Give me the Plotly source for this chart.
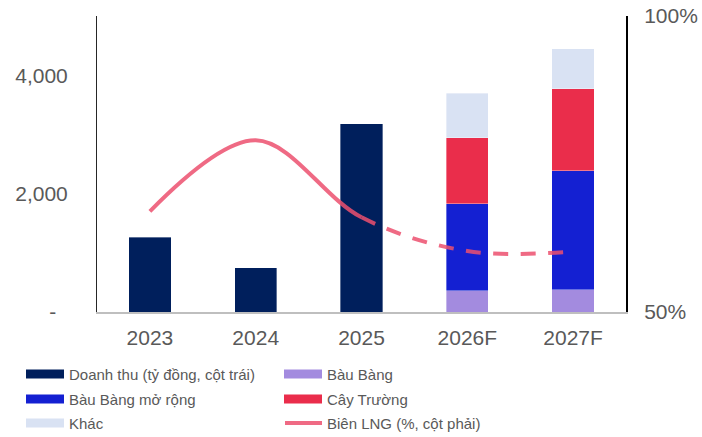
import math
import plotly.graph_objects as go

# Categories and values
years = ["2023", "2024", "2025", "2026F", "2027F"]
revenue = [1260, 750, 3180, None, None]          # Doanh thu (tỷ đồng)
bau_bang = [None, None, None, 360, 380]
bau_bang_mr = [None, None, None, 1470, 2005]
cay_truong = [None, None, None, 1115, 1390]
khac = [None, None, None, 750, 670]
margin_pct = [67.0, 79.0, 66.0, 60.3, 60.2]      # Biên LNG (%)
last_actual = 2                                  # index of the last reported year (2025)

NAVY = "#001F5C"
LAVENDER = "#A38BDF"
BLUE = "#1420D2"
RED = "#EA2D4B"
LIGHT = "#D9E2F3"
PINK = "rgba(236,80,110,0.85)"
FONT = "Liberation Sans, Arial, sans-serif"
GREY = "#595959"

W, H = 702, 437
ML, MR, MT, MB = 97, 76, 16, 125
Y2_RANGE = (50, 100)


def spline_length_to(values, upto, smoothness=1.0):
    """Pixel length of plotly's spline path from the first point to point `upto`."""
    pw, ph = W - ML - MR, H - MT - MB
    n = len(values)
    pts = [(ML + (i + 0.5) * pw / n,
            MT + (Y2_RANGE[1] - v) / (Y2_RANGE[1] - Y2_RANGE[0]) * ph)
           for i, v in enumerate(values)]

    def tangent(a, b, c):
        d1x, d1y = a[0] - b[0], a[1] - b[1]
        d2x, d2y = c[0] - b[0], c[1] - b[1]
        d1a = (d1x * d1x + d1y * d1y) ** 0.25
        d2a = (d2x * d2x + d2y * d2y) ** 0.25
        nx = (d2a * d2a * d1x - d1a * d1a * d2x) * smoothness
        ny = (d2a * d2a * d1y - d1a * d1a * d2y) * smoothness
        den1 = d2a * (d1a + d2a) * 3
        den2 = d1a * (d1a + d2a) * 3
        return ((b[0] + nx / den1, b[1] + ny / den1),
                (b[0] - nx / den2, b[1] - ny / den2))

    tans = [tangent(pts[i - 1], pts[i], pts[i + 1]) for i in range(1, n - 1)]
    segs = [[pts[0], tans[0][0], pts[1]]]
    for i in range(2, n - 1):
        segs.append([pts[i - 1], tans[i - 2][1], tans[i - 1][0], pts[i]])
    segs.append([pts[n - 2], tans[n - 3][1], pts[n - 1]])

    def bez(ctrl, t):
        if len(ctrl) == 3:
            p0, p1, p2 = ctrl
            return tuple((1 - t) ** 2 * p0[k] + 2 * (1 - t) * t * p1[k] + t * t * p2[k] for k in (0, 1))
        p0, p1, p2, p3 = ctrl
        return tuple((1 - t) ** 3 * p0[k] + 3 * (1 - t) ** 2 * t * p1[k]
                     + 3 * (1 - t) * t * t * p2[k] + t ** 3 * p3[k] for k in (0, 1))

    total = 0.0
    for seg in segs[:upto]:
        prev = bez(seg, 0.0)
        for s in range(1, 401):
            cur = bez(seg, s / 400)
            total += math.hypot(cur[0] - prev[0], cur[1] - prev[1])
            prev = cur
    return total


fig = go.Figure()
bar_w = 0.4
edge = dict(color="rgba(255,255,255,0.6)", width=0.6)
for name, vals, col in [
    ("Doanh thu (tỷ đồng, cột trái)", revenue, NAVY),
    ("Bàu Bàng", bau_bang, LAVENDER),
    ("Bàu Bàng mở rộng", bau_bang_mr, BLUE),
    ("Cây Trường", cay_truong, RED),
    ("Khác", khac, LIGHT),
]:
    fig.add_trace(go.Bar(x=years, y=vals, name=name, width=bar_w,
                         marker=dict(color=col, line=edge), showlegend=False))

# One smooth curve through all years: solid for reported years, dashed for forecasts
solid_len = spline_length_to(margin_pct, last_actual)
solid_dash = f"{solid_len:.1f}px,3000px"
dash_pattern = ",".join(["15px,12.5px"] * 20)
fcst_dash = f"0px,{solid_len:.1f}px,{dash_pattern},3000px"

fig.add_trace(go.Scatter(x=years, y=margin_pct, yaxis="y2", mode="lines",
                         line=dict(color=PINK, width=4, shape="spline", dash=solid_dash),
                         showlegend=False))
fig.add_trace(go.Scatter(x=years, y=margin_pct, yaxis="y2", mode="lines",
                         line=dict(color=PINK, width=4, shape="spline", dash=fcst_dash),
                         showlegend=False))

fig.update_layout(
    width=W, height=H,
    margin=dict(l=ML, r=MR, t=MT, b=MB, autoexpand=False),
    paper_bgcolor="white", plot_bgcolor="white",
    barmode="stack",
    font=dict(family=FONT, size=21, color=GREY),
    xaxis=dict(type="category", categoryorder="array", categoryarray=years,
               range=[-0.5, 4.5], showline=True, linecolor="#BFBFBF", linewidth=1.5,
               ticks="", showgrid=False, zeroline=False, ticklabelstandoff=6,
               automargin=False, tickfont=dict(size=21, color=GREY)),
    yaxis=dict(range=[0, 5000], tickvals=[0, 2000, 4000],
               ticktext=["-\u00a0\u00a0", "2,000", "4,000"],
               showline=True, linecolor="#262626", linewidth=1,
               showgrid=False, zeroline=False, ticks="", ticklabelstandoff=24,
               automargin=False, tickfont=dict(size=21, color=GREY)),
    yaxis2=dict(range=list(Y2_RANGE), overlaying="y", side="right",
                tickvals=[50, 100], ticktext=["50%", "100%"],
                showline=True, linecolor="black", linewidth=2,
                ticks="inside", ticklen=6, tickwidth=2, tickcolor="black",
                showgrid=False, zeroline=False, ticklabelstandoff=12,
                automargin=False, tickfont=dict(size=21, color=GREY)),
)

# Legend drawn as swatches and labels below the plot
legend_items = [
    ("Doanh thu (tỷ đồng, cột trái)", NAVY, "box", 26, 374),
    ("Bàu Bàng", LAVENDER, "box", 284, 374),
    ("Bàu Bàng mở rộng", BLUE, "box", 26, 399),
    ("Cây Trường", RED, "box", 284, 399),
    ("Khác", LIGHT, "box", 26, 423),
    ("Biên LNG (%, cột phải)", PINK, "line", 284, 423),
]
pw, ph = W - ML - MR, H - MT - MB
for label, col, kind, x0, yc in legend_items:
    if kind == "box":
        fig.add_shape(type="rect", xref="paper", yref="paper",
                      x0=(x0 - ML) / pw, x1=(x0 + 38 - ML) / pw,
                      y0=(H - MB - (yc + 4.5)) / ph, y1=(H - MB - (yc - 4.5)) / ph,
                      fillcolor=col, line=dict(width=0))
    else:
        fig.add_shape(type="line", xref="paper", yref="paper",
                      x0=(x0 + 1 - ML) / pw, x1=(x0 + 38 - ML) / pw,
                      y0=(H - MB - yc) / ph, y1=(H - MB - yc) / ph,
                      line=dict(color=col, width=4))
    fig.add_annotation(text=label, xref="paper", yref="paper",
                       x=(x0 + 41 - ML) / pw, y=(H - MB - yc) / ph,
                       xanchor="left", yanchor="middle", showarrow=False,
                       font=dict(family=FONT, size=15, color=GREY))

fig.write_html("out.html")
